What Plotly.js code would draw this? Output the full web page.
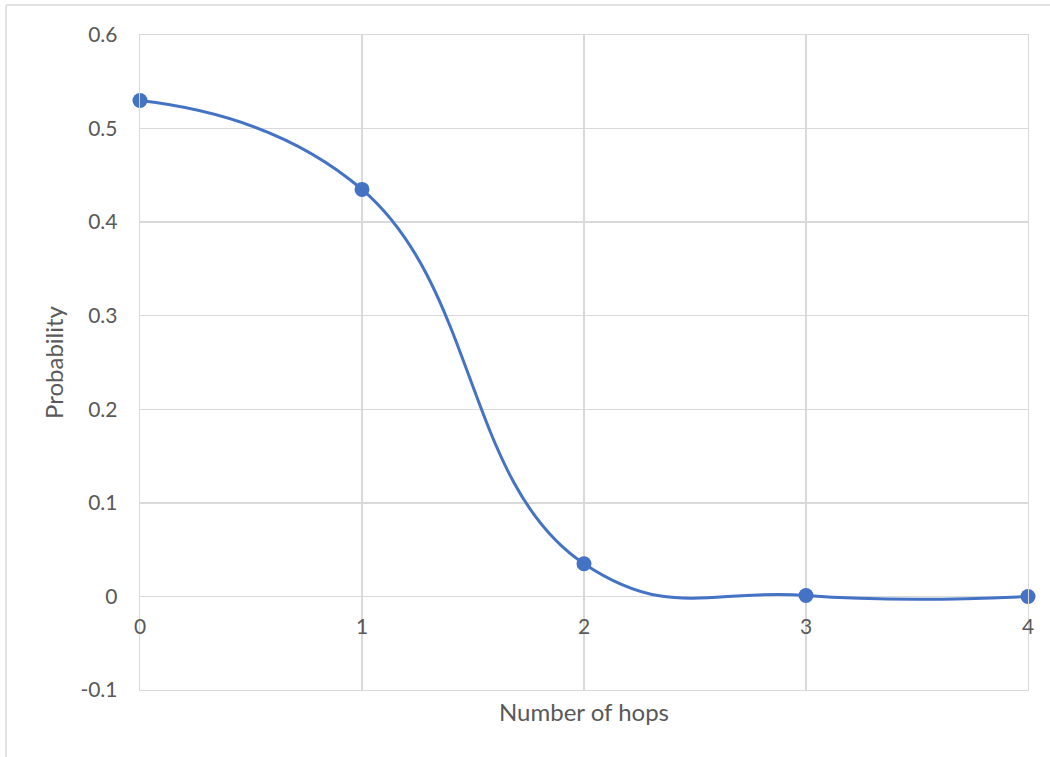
<!DOCTYPE html>
<html>
<head>
<meta charset="utf-8">
<script src="https://cdn.plot.ly/plotly-3.0.1.min.js"></script>
<style>html,body{margin:0;padding:0;background:#fff;} #chart{width:1050px;height:757px;}</style>
</head>
<body>
<div id="chart"></div>
<script>
const hops = [0, 1, 2, 3, 4];
const probability = [0.53, 0.435, 0.035, 0.001, 0];
const hopLabels = ['0', '1', '2', '3', '4'];
const yTicks = [-0.1, 0, 0.1, 0.2, 0.3, 0.4, 0.5, 0.6];
const yTickLabels = ['-0.1', '0', '0.1', '0.2', '0.3', '0.4', '0.5', '0.6'];

const FONT = 'Lato, "Open Sans", sans-serif';
const GRID = '#d9d9d9';
const TXT = '#595959';

const trace = {
  x: hops, y: probability, type: 'scatter', mode: 'lines+markers',
  line: {color: '#4472C4', width: 3, shape: 'spline', smoothing: 1.3},
  marker: {color: '#4472C4', size: 15},
  cliponaxis: false, hoverinfo: 'x+y'
};

const W = 888, H = 655;
const annotations = hops.map((h, i) => ({
  x: h, y: 0, xref: 'x', yref: 'y', text: hopLabels[i], showarrow: false,
  yanchor: 'top', xanchor: 'center', yshift: -15,
  font: {family: FONT, size: 21, color: TXT}
}));

const layout = {
  width: 1050, height: 757,
  margin: {l: 140, r: 22, t: 35, b: 67},
  paper_bgcolor: '#fff', plot_bgcolor: '#fff',
  showlegend: false,
  font: {family: FONT, size: 21, color: TXT},
  xaxis: {
    range: [0, 4], tickvals: hops, showticklabels: false,
    showgrid: true, gridcolor: GRID, gridwidth: 1.3, zeroline: false,
    showline: true, linecolor: GRID, linewidth: 1.3, mirror: true, ticks: '',
    title: {text: 'Number of hops', font: {family: FONT, size: 24, color: TXT}, standoff: 14}
  },
  yaxis: {
    range: [-0.1, 0.6], tickvals: yTicks, ticktext: yTickLabels,
    showgrid: true, gridcolor: GRID, gridwidth: 1.3, zeroline: false,
    showline: true, linecolor: GRID, linewidth: 1.3, mirror: true, ticks: '',
    ticklabelstandoff: 17,
    tickfont: {family: FONT, size: 21, color: TXT},
    title: {text: 'Probability', font: {family: FONT, size: 24, color: TXT}, standoff: 10}
  },
  annotations: annotations,
  shapes: [
    {type: 'line', xref: 'paper', yref: 'paper', x0: (6 - 140) / W, x1: (6 - 140) / W, y0: 1 + (35 - 5) / H, y1: -(757 - 690 + 5) / H, line: {color: GRID, width: 1.5}},
    {type: 'line', xref: 'paper', yref: 'paper', x0: (6 - 140) / W, x1: 1 + 30 / W, y0: 1 + (35 - 5) / H, y1: 1 + (35 - 5) / H, line: {color: GRID, width: 1.5}}
  ]
};

Plotly.newPlot('chart', [trace], layout, {displayModeBar: false, staticPlot: true});
</script>
</body>
</html>
